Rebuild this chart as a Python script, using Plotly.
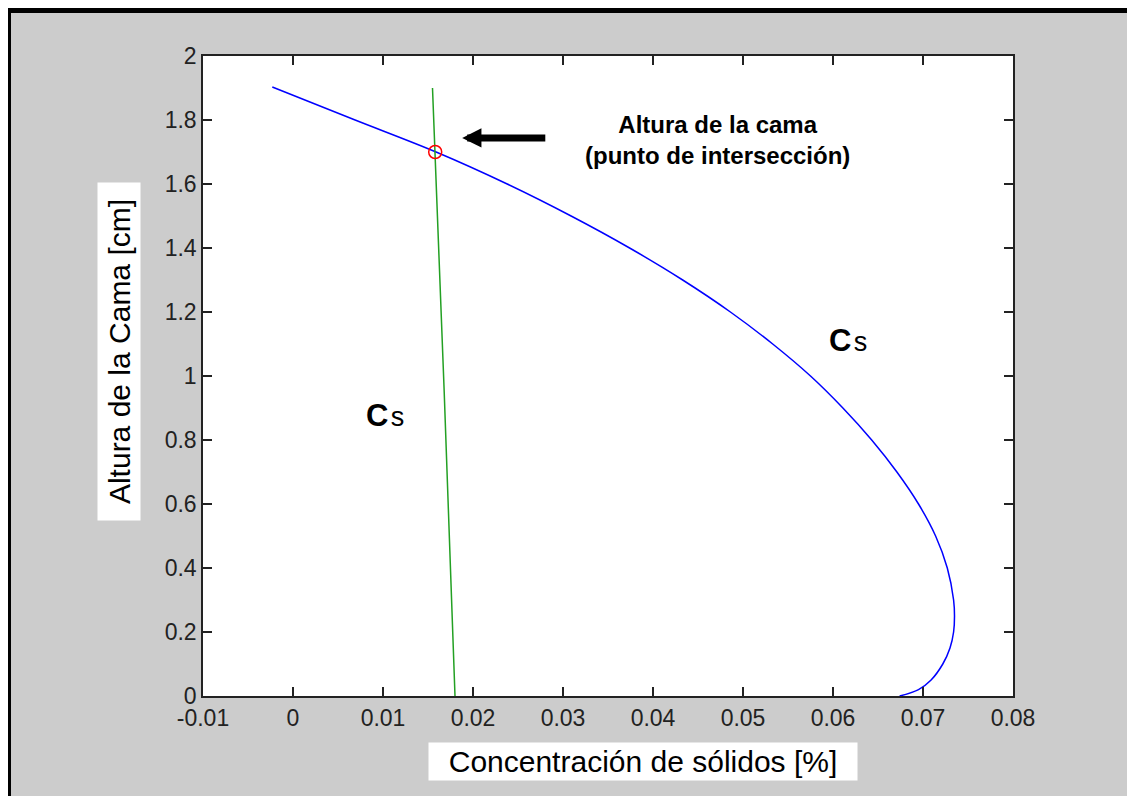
import plotly.graph_objects as go

# ---- data ----
blue_y = [1.903, 1.8, 1.7, 1.6, 1.5, 1.4, 1.3, 1.2, 1.1, 1.0, 0.9, 0.8, 0.7,
          0.6, 0.5, 0.4, 0.3, 0.25, 0.2, 0.15, 0.1, 0.05, 0.02, 0.0]
blue_x = [-0.0023, 0.0069, 0.0159, 0.0238, 0.0309, 0.0374, 0.0433, 0.0486,
          0.0533, 0.0575, 0.0611, 0.0643, 0.0671, 0.0695, 0.0714, 0.0727,
          0.0734, 0.0735, 0.0734, 0.0730, 0.0722, 0.0709, 0.0695, 0.0674]
green_x = [0.0155, 0.0168, 0.0180]
green_y = [1.90, 0.95, 0.0]
inter_x = [0.0158]
inter_y = [1.70]

x_ticks = [-0.01, 0.0, 0.01, 0.02, 0.03, 0.04, 0.05, 0.06, 0.07, 0.08]
x_tick_labels = ["-0.01", "0", "0.01", "0.02", "0.03", "0.04", "0.05", "0.06", "0.07", "0.08"]
y_ticks = [0, 0.2, 0.4, 0.6, 0.8, 1.0, 1.2, 1.4, 1.6, 1.8, 2.0]
y_tick_labels = ["0", "0.2", "0.4", "0.6", "0.8", "1", "1.2", "1.4", "1.6", "1.8", "2"]

x_title = "Concentración de sólidos [%]"
y_title = "Altura de la Cama [cm]"
note_text = "Altura de la cama<br>(punto de intersección)"
cs_text = "<b>C</b><span style='font-size:8px'> </span><span style='font-size:27px'>s</span>"

# annotation anchors (data units)
note_pos = (0.0472, 1.738)
arrow_head = (0.0188, 1.744)
arrow_tail = (0.0282, 1.744)
cs1_pos = (0.0102, 0.878)
cs2_pos = (0.0617, 1.110)

# the page body adds an 8px offset; figure is sized to fill the window
OFF = 8
W, H = 1135 - OFF, 796 - OFF
ML, MR, MT, MB = 203 - OFF, 122, 56 - OFF, 100
PW, PH = W - ML - MR, H - MT - MB


def px_x(p):  # window pixel -> paper
    return (p - OFF - ML) / PW


def px_y(p):
    return (H - MB - (p - OFF)) / PH


fig = go.Figure()
fig.add_trace(go.Scatter(x=blue_x, y=blue_y, mode="lines",
                         line=dict(color="#0000ff", width=1.5, shape="spline", smoothing=1.0),
                         showlegend=False, hoverinfo="skip"))
fig.add_trace(go.Scatter(x=green_x, y=green_y, mode="lines", line=dict(color="#23a023", width=1.5),
                         showlegend=False, hoverinfo="skip"))
fig.add_trace(go.Scatter(x=inter_x, y=inter_y, mode="markers",
                         marker=dict(symbol="circle-open", size=13, color="#ff0000",
                                     line=dict(width=1.5, color="#ff0000")),
                         showlegend=False, hoverinfo="skip"))

axis_common = dict(showline=True, linecolor="#222222", linewidth=1.5, mirror="ticks", ticks="inside",
                   ticklen=9, tickwidth=1.5, tickcolor="#222222", showgrid=False, zeroline=False,
                   tickfont=dict(family="Liberation Sans, Arial", size=23, color="#222222"))

fig.update_layout(
    width=W, height=H,
    margin=dict(l=ML, r=MR, t=MT, b=MB),
    paper_bgcolor="#cccccc", plot_bgcolor="#ffffff",
    xaxis=dict(range=[-0.01, 0.08], tickvals=x_ticks, ticktext=x_tick_labels, ticklabelstandoff=1,
               **axis_common),
    yaxis=dict(range=[0, 2], tickvals=y_ticks, ticktext=y_tick_labels, ticklabelstandoff=0, **axis_common),
)

# axis titles with white boxes
fig.add_annotation(xref="paper", yref="paper", x=px_x(643), y=px_y(761.5), text=x_title, showarrow=False,
                   font=dict(family="Liberation Sans, Arial", size=30, color="#000000"),
                   bgcolor="#ffffff", width=426, height=35, xanchor="center", yanchor="middle")
fig.add_annotation(xref="paper", yref="paper", x=px_x(119), y=px_y(352), text=y_title, showarrow=False,
                   textangle=-90, font=dict(family="Liberation Sans, Arial", size=30, color="#000000"),
                   bgcolor="#ffffff", width=335, height=40, xanchor="center", yanchor="middle")

# note
fig.add_annotation(x=note_pos[0], y=note_pos[1], text="<b>" + note_text + "</b>", showarrow=False,
                   font=dict(family="Liberation Sans, Arial", size=24, color="#000000"), align="center")
# arrow
fig.add_annotation(x=arrow_head[0], y=arrow_head[1], ax=arrow_tail[0], ay=arrow_tail[1], axref="x", ayref="y",
                   text="", showarrow=True, arrowhead=2, arrowsize=0.55, arrowwidth=7, arrowcolor="#000000")
# Cs labels
for pos in (cs1_pos, cs2_pos):
    fig.add_annotation(x=pos[0], y=pos[1], text=cs_text, showarrow=False,
                       font=dict(family="Liberation Sans, Arial", size=31, color="#000000"))

# figure frame (left and top borders)
fig.add_shape(type="line", xref="paper", yref="paper", x0=px_x(9.5), x1=px_x(9.5), y0=px_y(10), y1=px_y(830),
              line=dict(color="#000000", width=3))
fig.add_shape(type="line", xref="paper", yref="paper", x0=px_x(8), x1=px_x(1150), y0=px_y(10.5), y1=px_y(10.5),
              line=dict(color="#000000", width=5))

fig.write_html("out.html")
